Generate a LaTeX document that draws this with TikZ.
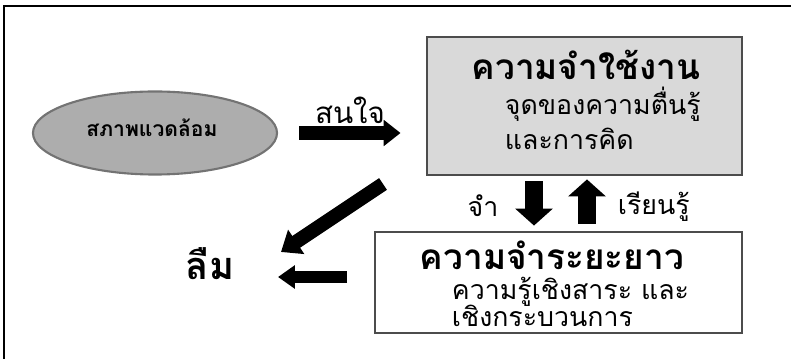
\documentclass[tikz,border=0pt]{standalone}
\usepackage{fontspec}
\newfontfamily\thaifont[Script=Thai]{Loma}
\usetikzlibrary{shapes.geometric,arrows.meta,positioning,calc}

\begin{document}
\begin{tikzpicture}[x=0.025cm, y=-0.025cm,
    env/.style={ellipse, draw=black!55, line width=1.5pt, fill=black!32, minimum width=6.1cm, minimum height=2.075cm, inner sep=0pt},
    mem/.style={rectangle, draw=black!70, line width=2pt, inner sep=0pt},
    big/.style={font=\thaifont\bfseries\fontsize{25}{30}\selectfont},
    mid/.style={font=\thaifont\fontsize{19}{24}\selectfont},
    fat/.style={line width=10pt, -{Triangle[length=12pt, width=18pt]}}
]
    \useasboundingbox (0,0) rectangle (791,359);
    \draw[line width=1pt] (4,359) -- (4,6) -- (791,6);

    \node[env] (env) at (155,133) {};
    \node[font=\thaifont\bfseries\fontsize{15}{18}\selectfont, anchor=base] (envt) at (152,137) {สภาพแวดล้อม};

    \node[mem, fill=black!15, minimum width=7.875cm, minimum height=3.45cm] (wm) at (584.5,106) {};
    \node[big, anchor=base] (wmt) at (586,80) {ความจำใช้งาน};
    \node[mid, anchor=base west] (wm1) at (500,115) {จุดของความตื่นรู้};
    \node[mid, anchor=base west] (wm2) at (500,150) {และการคิด};

    \node[mem, fill=white, minimum width=9.175cm, minimum height=2.525cm] (ltm) at (558.5,282.5) {};
    \node[big, anchor=base west] (ltmt) at (415,270) {ความจำระยะยาว};
    \node[mid, anchor=base west] (ltm1) at (447,300) {ความรู้เชิงสาระ และ};
    \node[mid, anchor=base west] (ltm2) at (447,327) {เชิงกระบวนการ};

    \node[big, font=\thaifont\bfseries\fontsize{27}{32}\selectfont, anchor=base] (forget) at (210,280) {ลืม};

    \node[mid, font=\thaifont\fontsize{21}{26}\selectfont, anchor=base] (attend) at (350,124) {สนใจ};
    \node[mid, anchor=base] (rem) at (483,217) {จำ};
    \node[mid, anchor=base west] (learn) at (613,215) {เรียนรู้};

    \coordinate (dn) at (534,0);
    \coordinate (up) at (587,0);
    \coordinate (dg) at (383,184);
    \coordinate (dgtip) at (281,252);
    \coordinate (lf) at (347,277);
    \coordinate (lftip) at (278,277);

    \draw[fat, shorten <=0.525cm, shorten >=0.625cm] (env.east) -- (env.east -| wm.west);
    \draw[fat, line width=13pt, -{Triangle[length=12pt, width=26pt]}, shorten <=0.125cm, shorten >=0.125cm] (wm.south -| dn) -- (ltm.north -| dn);
    \draw[fat, line width=13pt, -{Triangle[length=12pt, width=26pt]}, shorten <=0.175cm, shorten >=0.075cm] (ltm.north -| up) -- (wm.south -| up);
    \draw[fat, -{Triangle[length=13pt, width=20pt]}] (dg) -- (dgtip);
    \draw[fat, line width=8.5pt, -{Triangle[length=12pt, width=16pt]}] (lf) -- (lftip);
\end{tikzpicture}
\end{document}
